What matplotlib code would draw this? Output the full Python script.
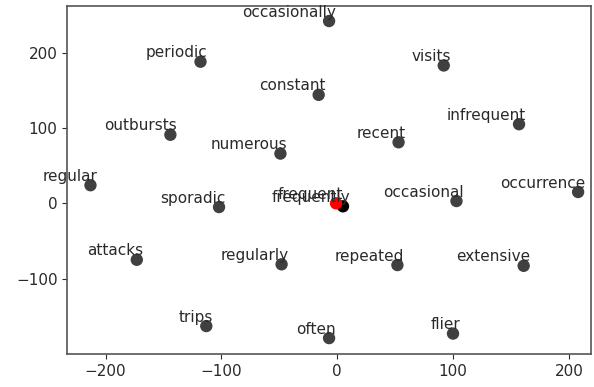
import matplotlib
matplotlib.use("Agg")
import matplotlib.pyplot as plt

# 2-D embedding of words close to "frequent"
words = ["occasionally", "periodic", "visits", "constant", "infrequent",
         "outbursts", "recent", "numerous", "regular", "occasional",
         "occurrence", "sporadic", "attacks", "regularly", "repeated",
         "extensive", "trips", "often", "flier", "frequently", "frequent"]
xs = [-7, -118, 92, -16, 157,
      -144, 53, -49, -213, 103,
      208, -102, -173, -48, 52,
      161, -113, -7, 100, 5, -1]
ys = [242, 188, 183, 144, 105,
      91, 81, 66, 24, 3,
      15, -5, -75, -81, -82,
      -83, -163, -179, -173, -4, 0]
colors = ["#404040"] * 19 + ["black", "red"]

fig = plt.figure(figsize=(5.94, 3.87), dpi=100)
ax = fig.add_axes([0.1133, 0.0845, 0.8814, 0.9008])

ax.scatter(xs, ys, c=colors, s=62, zorder=2)
for w, x, y in zip(words, xs, ys):
    ax.annotate(w, xy=(x, y), xytext=(5, 1), textcoords="offset points",
                ha="right", va="bottom", fontsize=11, color="#2a2a2a")

ax.set_xlim(-233, 219)
ax.set_ylim(-200.5, 262.4)
ax.set_xticks([-200, -100, 0, 100, 200])
ax.set_yticks([-100, 0, 100, 200])
for s in ax.spines.values():
    s.set_color("#555555")
    s.set_linewidth(1.2)
ax.tick_params(colors="#2a2a2a", labelsize=11, length=3.5)

fig.savefig("out.png", dpi=100)
